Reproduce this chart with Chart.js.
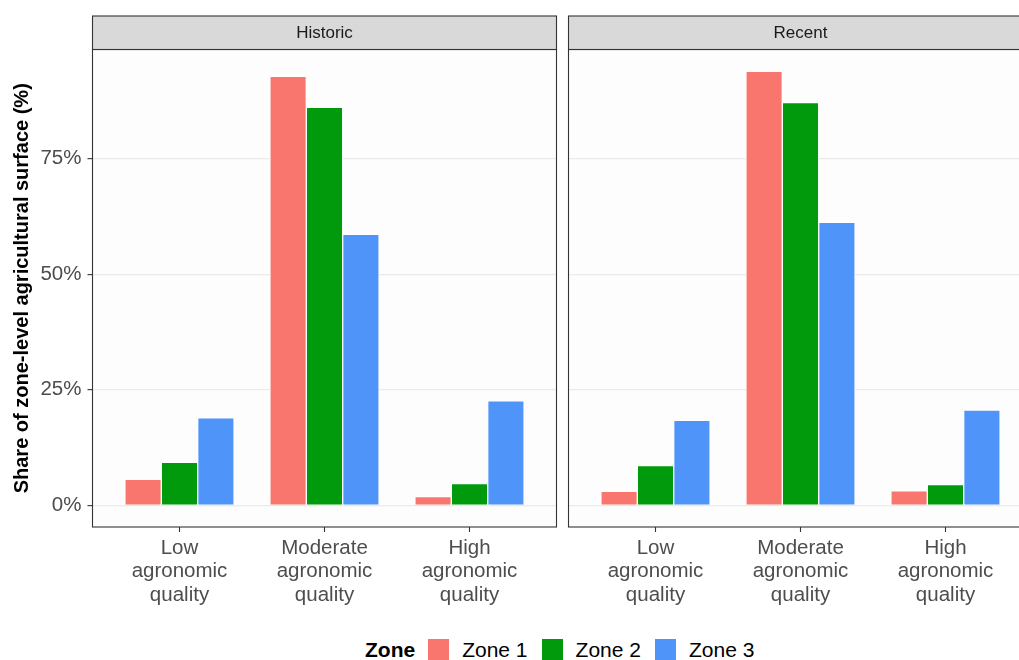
<!DOCTYPE html>
<html>
<head>
<meta charset="utf-8">
<script src="https://cdn.jsdelivr.net/npm/chart.js@4.4.1/dist/chart.umd.min.js"></script>
<style>
  html, body { margin: 0; padding: 0; background: #fff; overflow: hidden; }
  body { width: 1019px; height: 660px; position: relative; font-family: "Liberation Sans", Arial, sans-serif; }
  canvas { position: absolute; top: 0; }
  #historic { left: 0; }
  #recent { left: 562px; }
  .legend { position: absolute; left: 365px; top: 639px; height: 21px; display: flex; align-items: center; font-size: 21px; color: #000; }
  .legend b { margin-right: 13px; }
  .legend .key { width: 21px; height: 21px; margin-right: 13px; }
  .legend .lab { margin-right: 14px; }
</style>
</head>
<body>
<canvas id="historic" width="562" height="615"></canvas>
<canvas id="recent" width="480" height="615"></canvas>
<div class="legend" id="legend"><b>Zone</b></div>
<script>
// quality classes on the x axis
const qualityLabels = [
  ["Low", "agronomic", "quality"],
  ["Moderate", "agronomic", "quality"],
  ["High", "agronomic", "quality"]
];
const zones = ["Zone 1", "Zone 2", "Zone 3"];
const zoneColors = ["#F8766D", "#009A0C", "#4F94F9"];

// share of zone-level agricultural surface, % (Low, Moderate, High)
const historicZone1 = [5.6, 92.8, 1.9];
const historicZone2 = [9.3, 86.1, 4.7];
const historicZone3 = [18.9, 58.6, 22.6];
const recentZone1 = [3.0, 93.9, 3.1];
const recentZone2 = [8.6, 87.1, 4.5];
const recentZone3 = [18.4, 61.2, 20.6];

Chart.defaults.font.family = "'Liberation Sans', Arial, sans-serif";

// ggplot-like panel: light background, dark border and a grey strip on top
const panelFrame = {
  id: "panelFrame",
  beforeDraw(chart) {
    const { ctx, chartArea: a } = chart;
    ctx.save();
    ctx.fillStyle = "#fdfdfd";
    ctx.fillRect(a.left, a.top, a.right - a.left, a.bottom - a.top);
    ctx.restore();
  },
  afterDraw(chart, args, opts) {
    const { ctx, chartArea: a } = chart;
    const w = a.right - a.left;
    ctx.save();
    ctx.lineWidth = 1.1;
    ctx.strokeStyle = "#333333";
    ctx.strokeRect(a.left, a.top, w, a.bottom - a.top);
    ctx.fillStyle = "#d9d9d9";
    ctx.fillRect(a.left, a.top - 33.5, w, 33.5);
    ctx.strokeRect(a.left, a.top - 33.5, w, 33.5);
    ctx.fillStyle = "#1a1a1a";
    ctx.font = "17px 'Liberation Sans', Arial, sans-serif";
    ctx.textAlign = "center";
    ctx.textBaseline = "middle";
    ctx.fillText(opts.label, a.left + w / 2, a.top - 16.5);
    ctx.restore();
  }
};

function makePanel(id, label, series, showY) {
  const datasets = series.map((vals, i) => ({
    label: zones[i],
    data: vals.map((v, j) => ({ x: j, y: v })),
    backgroundColor: zoneColors[i],
    borderColor: "#ffffff",
    borderWidth: 1,
    borderSkipped: "start",
    barThickness: 36.4
  }));

  return new Chart(document.getElementById(id), {
    type: "bar",
    data: { datasets: datasets },
    plugins: [panelFrame],
    options: {
      responsive: false,
      animation: false,
      layout: { padding: { top: 49.5, left: 0, right: showY ? 5.5 : 9.5, bottom: 0 } },
      plugins: {
        legend: { display: false },
        tooltip: { enabled: false },
        panelFrame: { label: label }
      },
      scales: {
        x: {
          type: "linear",
          min: -0.6,
          max: 2.6,
          offset: false,
          afterFit: (scale) => { scale.height = 88; },
          border: { display: false },
          grid: { offset: false, drawOnChartArea: false, drawTicks: true, tickLength: 5, tickColor: "#333333", tickWidth: 1.1 },
          ticks: {
            stepSize: 1,
            includeBounds: false,
            maxRotation: 0,
            autoSkip: false,
            padding: 4.5,
            color: "#4d4d4d",
            font: { size: 20.5, lineHeight: 1.146 },
            callback: (v) => qualityLabels[v]
          }
        },
        y: {
          min: -4.7,
          max: 98.6,
          afterFit: (scale) => { scale.width = showY ? 92.5 : 6.5; },
          border: { display: false },
          grid: {
            color: "#ebebeb",
            lineWidth: 1.3,
            drawTicks: showY,
            tickLength: 5,
            tickColor: "#333333",
            tickWidth: 1.1
          },
          ticks: {
            display: showY,
            stepSize: 25,
            includeBounds: false,
            padding: 6,
            color: "#4d4d4d",
            font: { size: 20.5 },
            callback: (v) => v + "%"
          },
          title: {
            display: showY,
            text: "Share of zone-level agricultural surface (%)",
            color: "#000000",
            font: { size: 20, weight: "bold" },
            padding: { top: 10.5, bottom: 0 }
          }
        }
      }
    }
  });
}

makePanel("historic", "Historic", [historicZone1, historicZone2, historicZone3], true);
makePanel("recent", "Recent", [recentZone1, recentZone2, recentZone3], false);

// shared legend below both panels
const legend = document.getElementById("legend");
zones.forEach((z, i) => {
  const key = document.createElement("span");
  key.className = "key";
  key.style.background = zoneColors[i];
  const lab = document.createElement("span");
  lab.className = "lab";
  lab.textContent = z;
  legend.appendChild(key);
  legend.appendChild(lab);
});
</script>
</body>
</html>
